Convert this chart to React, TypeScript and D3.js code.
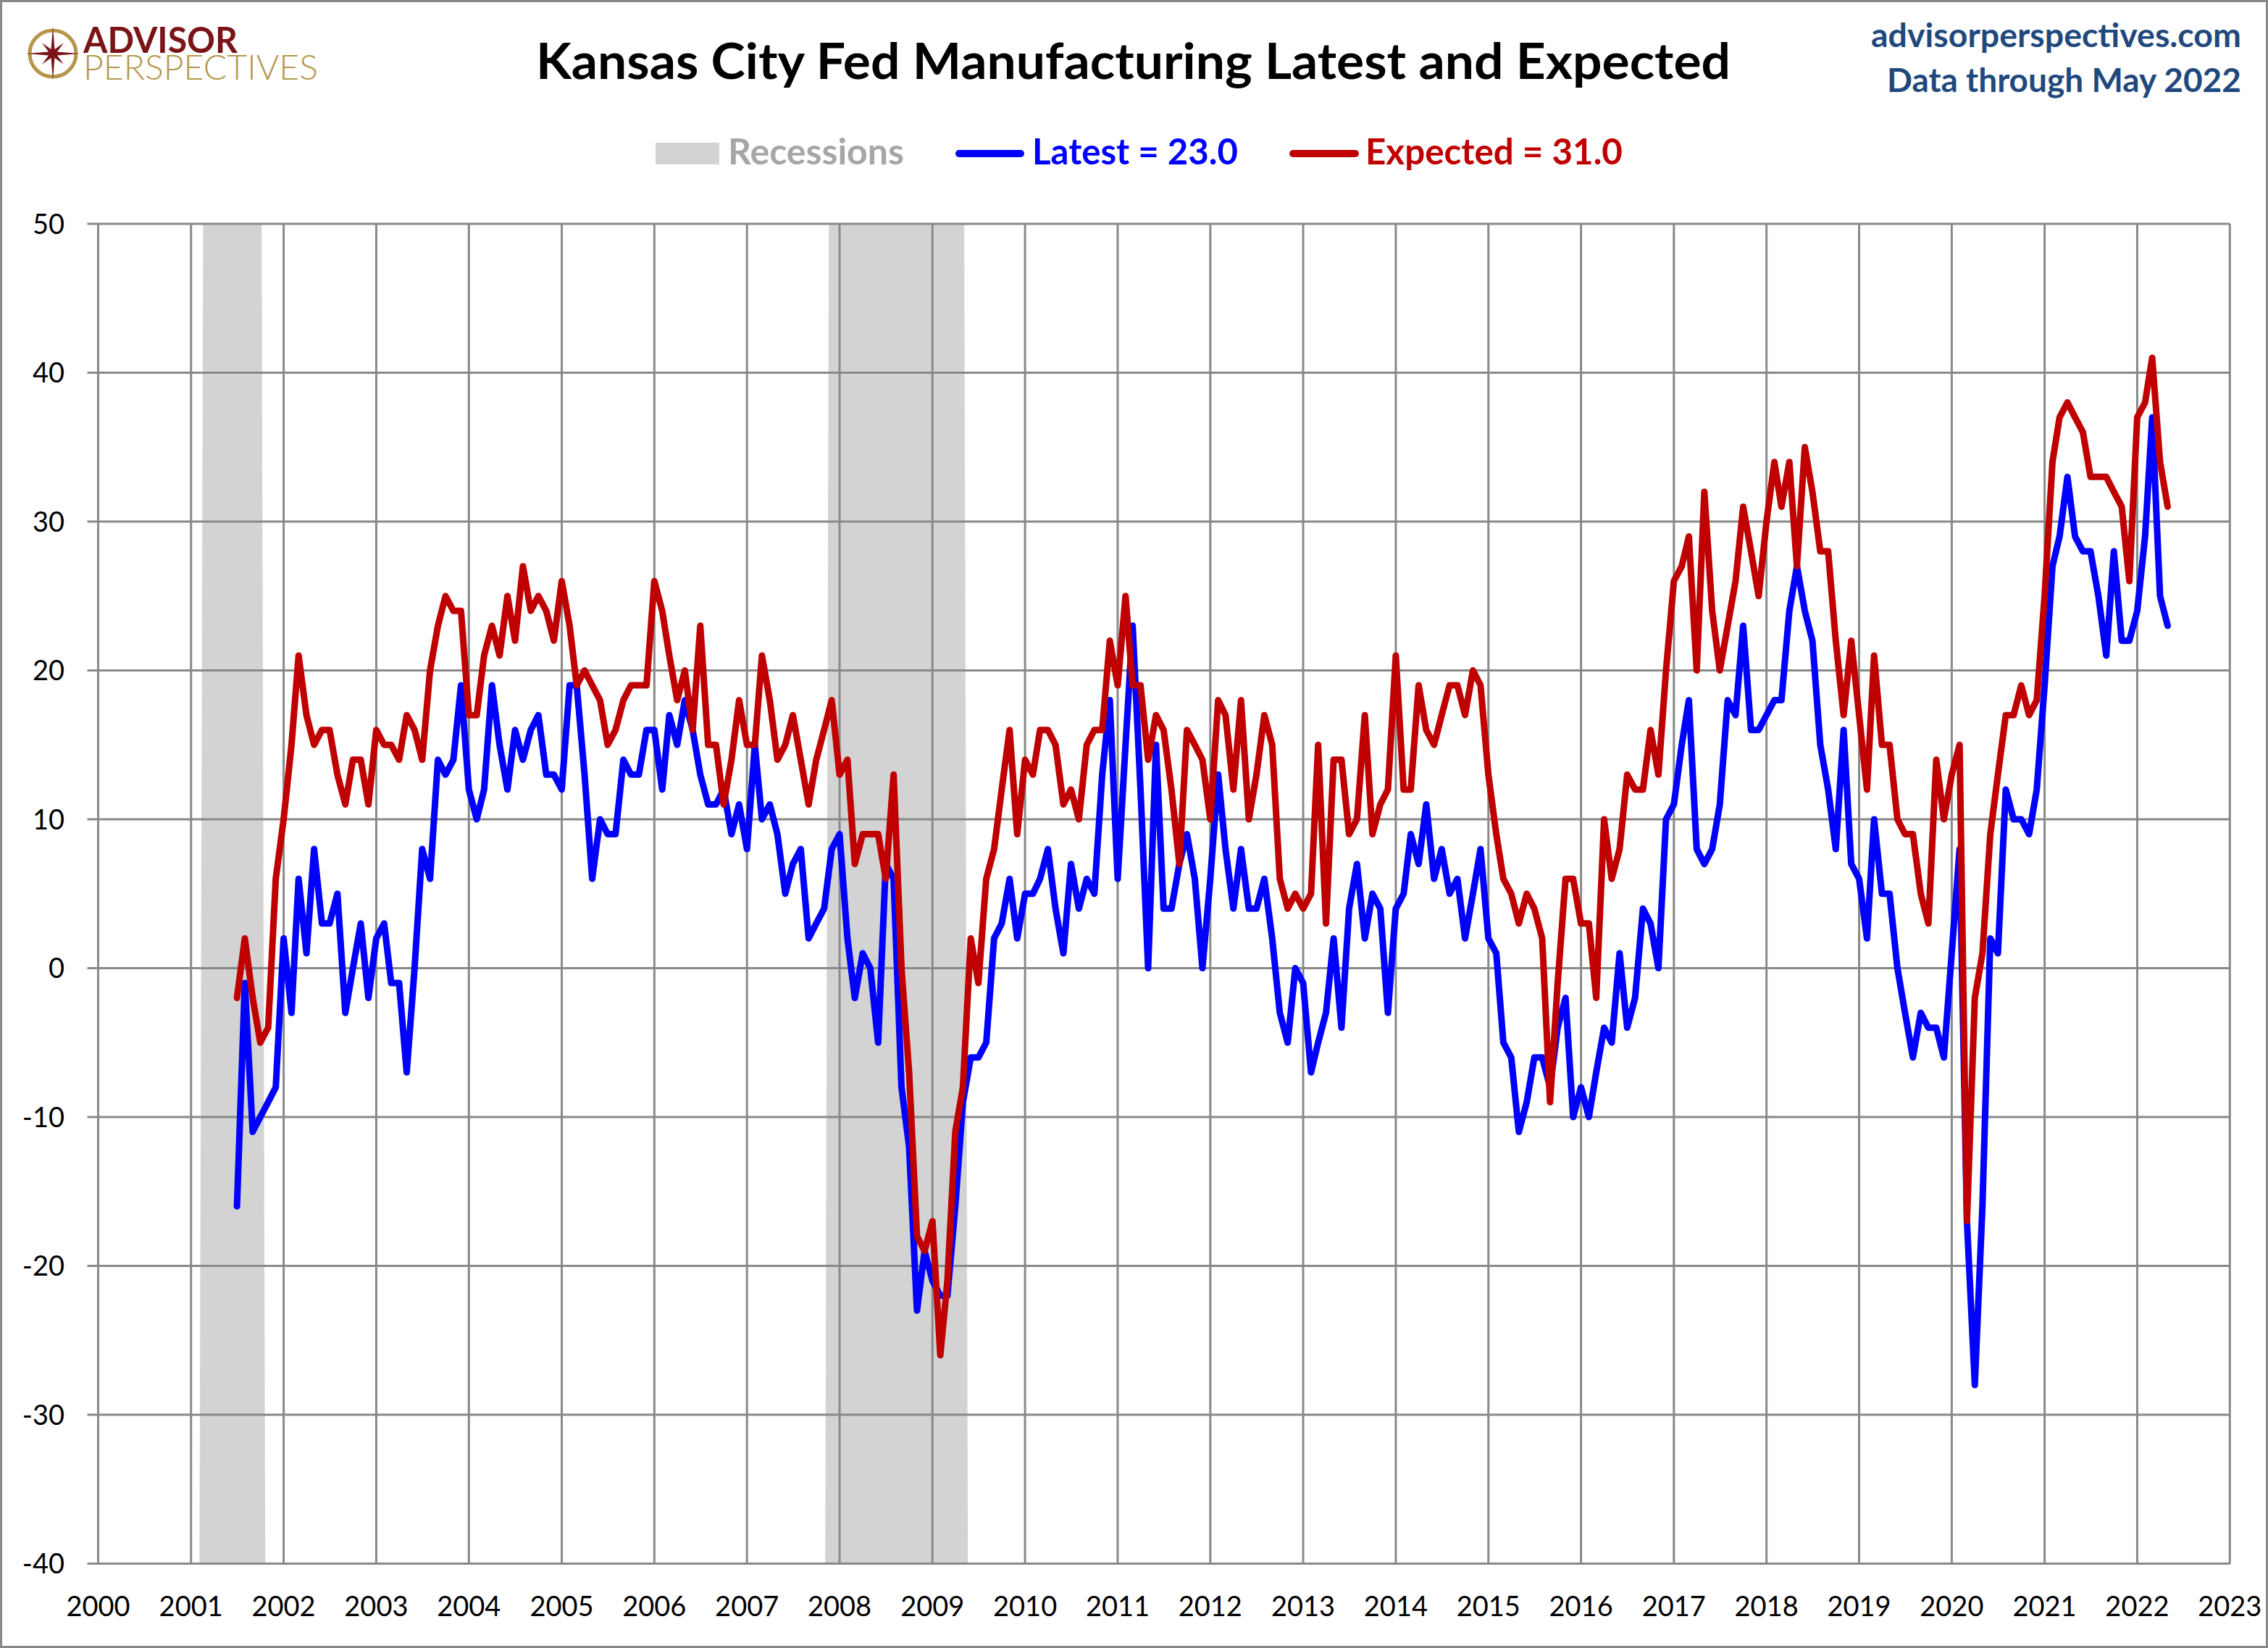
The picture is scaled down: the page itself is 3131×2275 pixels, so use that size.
import React, { useLayoutEffect } from 'react';
import * as d3 from 'd3';

// ---------- DATA ----------
// Monthly values, July 2001 through May 2022
const seriesStart = new Date(2001, 6, 1);

const latestValues: number[] = [
  // 2001 Jul-Dec
  -16, -1, -11, -10, -9, -8,
  // 2002
  2, -3, 6, 1, 8, 3, 3, 5, -3, 0, 3, -2,
  // 2003
  2, 3, -1, -1, -7, 0, 8, 6, 14, 13, 14, 19,
  // 2004
  12, 10, 12, 19, 15, 12, 16, 14, 16, 17, 13, 13,
  // 2005
  12, 19, 19, 13, 6, 10, 9, 9, 14, 13, 13, 16,
  // 2006
  16, 12, 17, 15, 18, 16, 13, 11, 11, 12, 9, 11,
  // 2007
  8, 15, 10, 11, 9, 5, 7, 8, 2, 3, 4, 8,
  // 2008
  9, 2, -2, 1, 0, -5, 7, 6, -8, -12, -23, -19,
  // 2009
  -21, -22, -22, -16, -9, -6, -6, -5, 2, 3, 6, 2,
  // 2010
  5, 5, 6, 8, 4, 1, 7, 4, 6, 5, 13, 18,
  // 2011
  6, 15, 23, 12, 0, 15, 4, 4, 7, 9, 6, 0,
  // 2012
  6, 13, 8, 4, 8, 4, 4, 6, 2, -3, -5, 0,
  // 2013
  -1, -7, -5, -3, 2, -4, 4, 7, 2, 5, 4, -3,
  // 2014
  4, 5, 9, 7, 11, 6, 8, 5, 6, 2, 5, 8,
  // 2015
  2, 1, -5, -6, -11, -9, -6, -6, -8, -4, -2, -10,
  // 2016
  -8, -10, -7, -4, -5, 1, -4, -2, 4, 3, 0, 10,
  // 2017
  11, 15, 18, 8, 7, 8, 11, 18, 17, 23, 16, 16,
  // 2018
  17, 18, 18, 24, 27, 24, 22, 15, 12, 8, 16, 7,
  // 2019
  6, 2, 10, 5, 5, 0, -3, -6, -3, -4, -4, -6,
  // 2020
  1, 8, -17, -28, -16, 2, 1, 12, 10, 10, 9, 12,
  // 2021
  19, 27, 29, 33, 29, 28, 28, 25, 21, 28, 22, 22,
  // 2022 Jan-May
  24, 29, 37, 25, 23,
];

const expectedValues: number[] = [
  // 2001 Jul-Dec
  -2, 2, -2, -5, -4, 6,
  // 2002
  10, 15, 21, 17, 15, 16, 16, 13, 11, 14, 14, 11,
  // 2003
  16, 15, 15, 14, 17, 16, 14, 20, 23, 25, 24, 24,
  // 2004
  17, 17, 21, 23, 21, 25, 22, 27, 24, 25, 24, 22,
  // 2005
  26, 23, 19, 20, 19, 18, 15, 16, 18, 19, 19, 19,
  // 2006
  26, 24, 21, 18, 20, 16, 23, 15, 15, 11, 14, 18,
  // 2007
  15, 15, 21, 18, 14, 15, 17, 14, 11, 14, 16, 18,
  // 2008
  13, 14, 7, 9, 9, 9, 6, 13, 0, -7, -18, -19,
  // 2009
  -17, -26, -21, -11, -8, 2, -1, 6, 8, 12, 16, 9,
  // 2010
  14, 13, 16, 16, 15, 11, 12, 10, 15, 16, 16, 22,
  // 2011
  19, 25, 19, 19, 14, 17, 16, 12, 7, 16, 15, 14,
  // 2012
  10, 18, 17, 12, 18, 10, 13, 17, 15, 6, 4, 5,
  // 2013
  4, 5, 15, 3, 14, 14, 9, 10, 17, 9, 11, 12,
  // 2014
  21, 12, 12, 19, 16, 15, 17, 19, 19, 17, 20, 19,
  // 2015
  13, 9, 6, 5, 3, 5, 4, 2, -9, -1, 6, 6,
  // 2016
  3, 3, -2, 10, 6, 8, 13, 12, 12, 16, 13, 20,
  // 2017
  26, 27, 29, 20, 32, 24, 20, 23, 26, 31, 28, 25,
  // 2018
  30, 34, 31, 34, 27, 35, 32, 28, 28, 22, 17, 22,
  // 2019
  17, 12, 21, 15, 15, 10, 9, 9, 5, 3, 14, 10,
  // 2020
  13, 15, -17, -2, 1, 9, 13, 17, 17, 19, 17, 18,
  // 2021
  25, 34, 37, 38, 37, 36, 33, 33, 33, 32, 31, 26,
  // 2022 Jan-May
  37, 38, 41, 34, 31,
];

const recessionStarts = [new Date(2001, 2, 1), new Date(2007, 11, 1)];
const recessionEnds = [new Date(2001, 10, 1), new Date(2009, 5, 1)];

const yTickValues = [50, 40, 30, 20, 10, 0, -10, -20, -30, -40];
const xTickYears = d3.range(2000, 2024);

const titleText = 'Kansas City Fed Manufacturing Latest and Expected';
const siteText = 'advisorperspectives.com';
const dataThroughText = 'Data through May 2022';
const legendRecessions = 'Recessions';
const legendLatest = `Latest = ${latestValues[latestValues.length - 1].toFixed(1)}`;
const legendExpected = `Expected = ${expectedValues[expectedValues.length - 1].toFixed(1)}`;

// ---------- LAYOUT ----------
const W = 3131;
const H = 2275;
const FONT = "Lato, 'Liberation Sans', 'DejaVu Sans', sans-serif";
const GRID = '#898989';
const BLUE = '#0000FF';
const RED = '#C00000';
const BAND = '#D3D3D3';
const NAVY = '#1F497D';
const LOGO_RED = '#7A1416';
const LOGO_GOLD = '#B5964B';

const x = d3
  .scaleTime()
  .domain([new Date(2000, 0, 1), new Date(2023, 0, 1)])
  .range([135.5, 3078.3]);
const y = d3.scaleLinear().domain([-40, 50]).range([2158.5, 309]);

const dates = d3.timeMonth.range(seriesStart, d3.timeMonth.offset(seriesStart, latestValues.length));

const lineGen = d3
  .line<number>()
  .x((_, i) => x(dates[i]))
  .y((d) => y(d));

function starPoints(cx: number, cy: number): string {
  const pts: [number, number][] = [];
  const n = 8;
  for (let k = 0; k < n * 2; k++) {
    const ang = (Math.PI * 2 * k) / (n * 2) - Math.PI / 2;
    let r: number;
    if (k % 2 === 1) r = 6.5;
    else if ((k / 2) % 2 === 0) r = 37;
    else r = 21;
    pts.push([cx + r * Math.cos(ang), cy + r * Math.sin(ang)]);
  }
  return pts.map((p) => p.join(',')).join(' ');
}

export default function App() {
  useLayoutEffect(() => {
    document.body.style.margin = '0';
    document.body.style.overflow = 'hidden';
    document.documentElement.style.overflow = 'hidden';
  }, []);

  const [y0, y1] = y.range();
  const xl = x.range()[0];
  const xr = x.range()[1];

  return (
    <svg
      width={W}
      height={H}
      viewBox={`0 0 ${W} ${H}`}
      style={{ display: 'block', position: 'absolute', left: 0, top: 0, background: '#fff' }}
      fontFamily={FONT}
    >
      <rect x={0} y={0} width={W} height={H} fill="#fff" />
      <rect x={1.5} y={1.5} width={W - 3} height={H - 3} fill="none" stroke={GRID} strokeWidth={3} />

      {/* Logo */}
      <g>
        <circle cx={73} cy={74} r={32} fill="none" stroke={LOGO_GOLD} strokeWidth={5} />
        <polygon points={starPoints(73, 74)} fill={LOGO_RED} />
        <text
          x={115}
          y={73}
          fontSize={49}
          fontWeight={700}
          fill={LOGO_RED}
          textLength={213}
          lengthAdjust="spacingAndGlyphs"
        >
          ADVISOR
        </text>
        <text
          x={115}
          y={110}
          fontSize={47}
          fontWeight={300}
          fill={LOGO_GOLD}
          textLength={324}
          lengthAdjust="spacingAndGlyphs"
        >
          PERSPECTIVES
        </text>
      </g>

      {/* Title */}
      <text
        x={740}
        y={109}
        fontSize={68}
        fontWeight={700}
        fill="#000"
        textLength={1649}
        lengthAdjust="spacingAndGlyphs"
      >
        {titleText}
      </text>

      {/* Top right */}
      <text
        x={3094}
        y={65}
        fontSize={45}
        fontWeight={700}
        fill={NAVY}
        textAnchor="end"
        textLength={511}
        lengthAdjust="spacingAndGlyphs"
      >
        {siteText}
      </text>
      <text
        x={3094}
        y={127}
        fontSize={45}
        fontWeight={700}
        fill={NAVY}
        textAnchor="end"
        textLength={489}
        lengthAdjust="spacingAndGlyphs"
      >
        {dataThroughText}
      </text>

      {/* Legend */}
      <g fontWeight={700} fontSize={49}>
        <rect x={905} y={197} width={88} height={30} fill={BAND} />
        <text x={1005} y={227} fill="#A6A6A6" textLength={243} lengthAdjust="spacingAndGlyphs">
          {legendRecessions}
        </text>
        <line x1={1324} x2={1409} y1={212} y2={212} stroke={BLUE} strokeWidth={10} strokeLinecap="round" />
        <text x={1425} y={227} fill={BLUE} textLength={284} lengthAdjust="spacingAndGlyphs">
          {legendLatest}
        </text>
        <line x1={1785} x2={1871} y1={212} y2={212} stroke={RED} strokeWidth={10} strokeLinecap="round" />
        <text x={1885} y={227} fill={RED} textLength={355} lengthAdjust="spacingAndGlyphs">
          {legendExpected}
        </text>
      </g>

      {/* Recession bands */}
      {recessionStarts.map((s, i) => {
        const xs = x(s);
        const xe = x(recessionEnds[i]);
        const pts = [
          [xs - 4, y1],
          [xe - 9, y1],
          [xe - 4, y0],
          [xs - 9, y0],
        ];
        return <polygon key={i} points={pts.map((p) => p.join(',')).join(' ')} fill={BAND} />;
      })}

      {/* Gridlines */}
      {yTickValues.map((v) => (
        <line key={`h${v}`} x1={xl - 15} x2={xr} y1={y(v)} y2={y(v)} stroke={GRID} strokeWidth={3} />
      ))}
      {xTickYears.map((yr) => {
        const xv = x(new Date(yr, 0, 1));
        return <line key={`v${yr}`} x1={xv} x2={xv} y1={y1} y2={y0} stroke={GRID} strokeWidth={3} />;
      })}

      {/* Y labels */}
      {yTickValues.map((v) => (
        <text key={`yl${v}`} x={89} y={y(v) + 13.5} fontSize={38} textAnchor="end" fill="#000">
          {v}
        </text>
      ))}
      {/* X labels */}
      {xTickYears.map((yr) => (
        <text key={`xl${yr}`} x={x(new Date(yr, 0, 1))} y={2231} fontSize={38} textAnchor="middle" fill="#000">
          {yr}
        </text>
      ))}

      {/* Series */}
      <path
        d={lineGen(latestValues) || ''}
        fill="none"
        stroke={BLUE}
        strokeWidth={9}
        strokeLinejoin="round"
        strokeLinecap="round"
      />
      <path
        d={lineGen(expectedValues) || ''}
        fill="none"
        stroke={RED}
        strokeWidth={9}
        strokeLinejoin="round"
        strokeLinecap="round"
      />
    </svg>
  );
}
